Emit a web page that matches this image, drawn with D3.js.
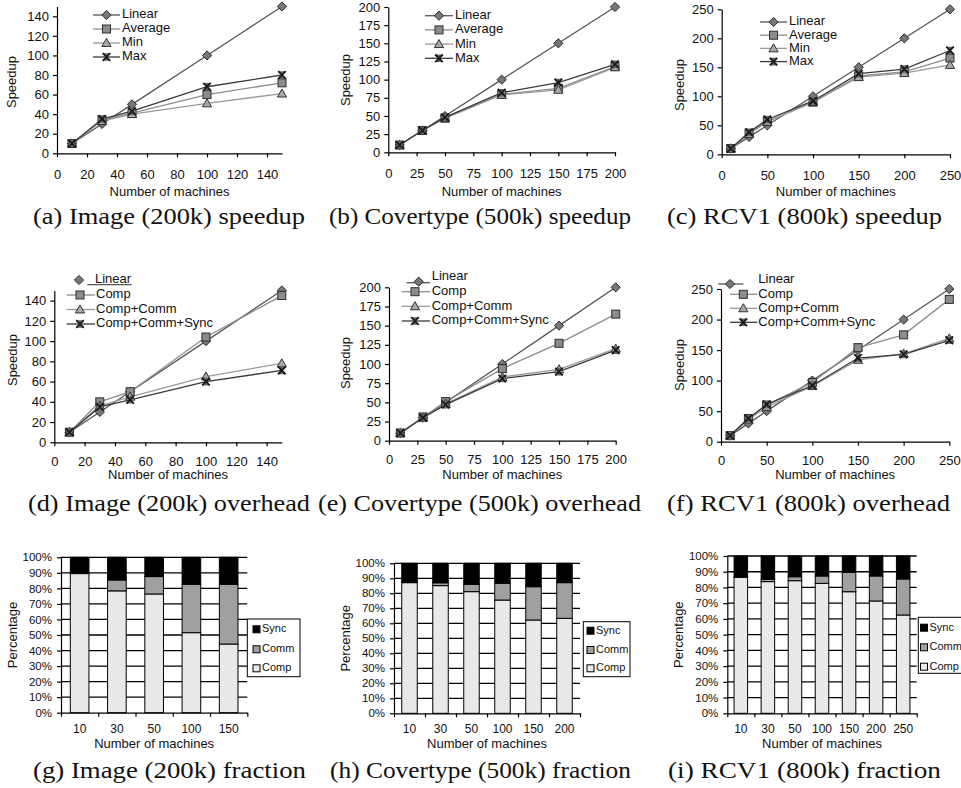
<!DOCTYPE html>
<html><head><meta charset="utf-8">
<script src="https://cdn.jsdelivr.net/npm/d3@7"></script>
<style>body{margin:0;background:#fff}svg{display:block}</style>
</head><body><svg id="c" width="961" height="788"></svg>
<script>
// ---------- data ----------
const xImage = [10, 30, 50, 100, 150];
const xCover = [10, 30, 50, 100, 150, 200];
const xRcv   = [10, 30, 50, 100, 150, 200, 250];

// speedup (row 1)
const imgLinear  = [10, 30, 50, 100, 150];
const imgAverage = [10, 34, 41, 60, 72];
const imgMin     = [10, 33, 40, 51, 61];
const imgMax     = [10, 35, 43, 68, 80];

const covLinear  = [10, 30, 50, 100, 150, 200];
const covAverage = [10, 30, 47, 80, 88, 118];
const covMin     = [10, 30, 47, 79, 86, 117];
const covMax     = [10, 30, 48, 82, 96, 121];

const rcvLinear  = [10, 30, 50, 100, 150, 200, 250];
const rcvAverage = [10, 36, 57, 90, 135, 142, 166];
const rcvMin     = [10, 35, 56, 90, 133, 140, 154];
const rcvMax     = [10, 38, 60, 92, 139, 147, 179];

// overhead (row 2)
const imgComp         = [10, 40, 50, 104, 145];
const imgCompComm     = [10, 36, 45, 65, 78];
const imgCompCommSync = [10, 35, 42, 60, 71];

const covComp         = [10, 31, 51, 94, 127, 165];
const covCompComm     = [10, 30, 48, 83, 93, 120];
const covCompCommSync = [10, 30, 47, 81, 90, 118];

const rcvComp         = [10, 38, 60, 97, 154, 175, 233];
const rcvCompComm     = [10, 36, 57, 91, 134, 144, 169];
const rcvCompCommSync = [10, 38, 61, 92, 137, 143, 166];

// fraction (row 3), percent
const imgFracComp = [89.5, 78.4, 76.4, 51.5, 44.2];
const imgFracComm = [0.8, 7.0, 11.2, 31.2, 38.5];
const imgFracSync = [9.7, 14.6, 12.4, 17.3, 17.3];

const covFracComp = [87.1, 85.1, 81.1, 75.5, 62.2, 63.3];
const covFracComm = [0.4, 1.9, 4.9, 11.2, 22.2, 23.8];
const covFracSync = [12.5, 13.0, 14.0, 13.3, 15.6, 12.9];

const rcvFracComp = [86.4, 83.7, 84.3, 82.6, 77.3, 71.4, 62.5];
const rcvFracComm = [0.6, 1.5, 2.5, 4.7, 12.3, 15.9, 22.9];
const rcvFracSync = [13.0, 14.8, 13.2, 12.7, 10.4, 12.7, 14.6];

const speedupNames  = ["Linear", "Average", "Min", "Max"];
const overheadNames = ["Linear", "Comp", "Comp+Comm", "Comp+Comm+Sync"];
const fracNames     = ["Sync", "Comm", "Comp"];

const captions = [
  "(a) Image (200k) speedup", "(b) Covertype (500k) speedup", "(c) RCV1 (800k) speedup",
  "(d) Image (200k) overhead", "(e) Covertype (500k) overhead", "(f) RCV1 (800k) overhead",
  "(g) Image (200k) fraction", "(h) Covertype (500k) fraction", "(i) RCV1 (800k) fraction"
];

// ---------- drawing ----------
const svg = d3.select("#c");
const SANS = "'Liberation Sans', Arial, sans-serif";
const SERIF = "'Liberation Serif', 'Times New Roman', serif";

const styles = [
  {shape: "diamond",  line: "#555",    fill: "#777",    stroke: "#2a2a2a"},
  {shape: "square",   line: "#8e8e8e", fill: "#8c8c8c", stroke: "#2e2e2e"},
  {shape: "triangle", line: "#9a9a9a", fill: "#a8a8a8", stroke: "#333"},
  {shape: "x",        line: "#3a3a3a", fill: "#666",    stroke: "#1a1a1a"}
];

function drawMarker(g, shape, cx, cy, st) {
  if (shape === "diamond") {
    const r = 4.6;
    g.append("path").attr("d", `M${cx},${cy-r}L${cx+r},${cy}L${cx},${cy+r}L${cx-r},${cy}Z`)
      .attr("fill", st.fill).attr("stroke", st.stroke).attr("stroke-width", 1);
  } else if (shape === "square") {
    const r = 4;
    g.append("rect").attr("x", cx-r).attr("y", cy-r).attr("width", 2*r).attr("height", 2*r)
      .attr("fill", st.fill).attr("stroke", st.stroke).attr("stroke-width", 1);
  } else if (shape === "triangle") {
    const r = 4.6;
    g.append("path").attr("d", `M${cx},${cy-r}L${cx+r},${cy+r*0.75}L${cx-r},${cy+r*0.75}Z`)
      .attr("fill", st.fill).attr("stroke", st.stroke).attr("stroke-width", 1);
  } else {
    const r = 3.8;
    g.append("path").attr("d", `M${cx-r},${cy-r}L${cx+r},${cy-r}L${cx-r},${cy+r}L${cx+r},${cy+r}Z`)
      .attr("fill", st.fill).attr("stroke", "none");
    g.append("path").attr("d", `M${cx-r},${cy-r}L${cx+r},${cy+r}M${cx+r},${cy-r}L${cx-r},${cy+r}`)
      .attr("stroke", st.stroke).attr("stroke-width", 1.8).attr("fill", "none");
  }
}

function styleAxis(a, fs) {
  a.select(".domain").attr("stroke", "#000").attr("stroke-width", 1.2);
  a.selectAll(".tick line").attr("stroke", "#000").attr("stroke-width", 1.2);
  a.selectAll("text").attr("font-family", SANS).attr("font-size", fs).attr("fill", "#111");
}

function lineChart(o) {
  const x = d3.scaleLinear().domain([0, o.xMax]).range([o.x0, o.x1]);
  const y = d3.scaleLinear().domain([0, o.yMax]).range([o.y0, o.y1]);
  const g = svg.append("g");

  const ax = g.append("g").attr("transform", `translate(0,${o.y0})`)
    .call(d3.axisBottom(x).tickValues(o.xTicks).tickSize(4).tickSizeOuter(0).tickPadding(o.xPad || 12));
  styleAxis(ax, 13);
  const ay = g.append("g").attr("transform", `translate(${o.x0},0)`)
    .call(d3.axisLeft(y).tickValues(o.yTicks).tickSize(4).tickSizeOuter(0).tickPadding(4));
  styleAxis(ay, 13);

  g.append("text").attr("x", (o.x0 + o.x1) / 2).attr("y", o.xLabelY)
    .attr("text-anchor", "middle").attr("dominant-baseline", "middle")
    .attr("font-family", SANS).attr("font-size", 13).attr("fill", "#111").text("Number of machines");
  g.append("text").attr("transform", `translate(${o.yLabelX},${o.yLabelY}) rotate(-90)`)
    .attr("text-anchor", "middle").attr("dominant-baseline", "middle")
    .attr("font-family", SANS).attr("font-size", 13).attr("fill", "#111").text("Speedup");

  const line = d3.line().x(d => x(d[0])).y(d => y(d[1]));
  o.series.forEach((s, i) => {
    const pts = o.xs.map((v, j) => [v, s[j]]);
    g.append("path").attr("d", line(pts)).attr("fill", "none")
      .attr("stroke", styles[i].line).attr("stroke-width", 1.3);
  });
  o.series.forEach((s, i) => {
    o.xs.forEach((v, j) => drawMarker(g, styles[i].shape, x(v), y(s[j]), styles[i]));
  });

  // legend
  o.legend.forEach((L, i) => {
    g.append("line").attr("x1", L.l0).attr("x2", L.l1).attr("y1", L.ly).attr("y2", L.ly)
      .attr("stroke", styles[i].line).attr("stroke-width", 1.3);
    drawMarker(g, styles[i].shape, L.mx, L.my, styles[i]);
    g.append("text").attr("x", L.tx).attr("y", L.ty).attr("dominant-baseline", "middle")
      .attr("font-family", SANS).attr("font-size", 13).attr("fill", "#111").text(o.names[i]);
  });
}

function simpleLegend(l0, l1, tx, y0, dy) {
  return [0, 1, 2, 3].map(i => ({l0, l1, ly: y0 + i*dy, mx: (l0 + l1)/2, my: y0 + i*dy, tx, ty: y0 + i*dy}));
}

function barChart(o) {
  const n = o.cats.length;
  const xb = d3.scaleBand().domain(o.cats.map(String)).range([o.x0, o.x1]).paddingInner(0.5).paddingOuter(0.25);
  const xl = d3.scaleLinear().domain([0, n]).range([o.x0, o.x1]);
  const y = d3.scaleLinear().domain([0, 100]).range([o.y0, o.y1]);
  const g = svg.append("g");

  // gridlines
  d3.range(10, 101, 10).forEach(v => {
    g.append("line").attr("x1", o.x0).attr("x2", o.x1).attr("y1", y(v)).attr("y2", y(v))
      .attr("stroke", "#000").attr("stroke-width", 1.3);
  });

  const colors = {comp: "#e9e9e9", comm: "#a0a0a0", sync: "#000"};
  o.cats.forEach((c, j) => {
    const bx = xb(String(c)), bw = xb.bandwidth();
    const a = o.comp[j], b = o.comp[j] + o.comm[j], t = b + o.sync[j];
    [[0, a, colors.comp], [a, b, colors.comm], [b, t, colors.sync]].forEach(([lo, hi, col]) => {
      g.append("rect").attr("x", bx).attr("width", bw).attr("y", y(hi)).attr("height", y(lo) - y(hi))
        .attr("fill", col).attr("stroke", "#000").attr("stroke-width", 1);
    });
  });

  const ay = g.append("g").attr("transform", `translate(${o.x0},0)`)
    .call(d3.axisLeft(y).tickValues(d3.range(0, 101, 10)).tickFormat(d => d + "%").tickSize(4).tickSizeOuter(0).tickPadding(5));
  styleAxis(ay, 11.5);
  const ax = g.append("g").attr("transform", `translate(0,${o.y0})`)
    .call(d3.axisBottom(xl).tickValues(d3.range(0, n + 1)).tickFormat("").tickSize(4).tickSizeOuter(0));
  styleAxis(ax, 12);
  const axl = g.append("g").attr("transform", `translate(0,${o.y0})`)
    .call(d3.axisBottom(xb).tickSize(0).tickPadding(o.tPad));
  axl.select(".domain").remove();
  axl.selectAll("text").attr("font-family", SANS).attr("font-size", 12).attr("fill", "#111");

  g.append("text").attr("x", (o.x0 + o.x1) / 2).attr("y", o.xLabelY)
    .attr("text-anchor", "middle").attr("dominant-baseline", "middle")
    .attr("font-family", SANS).attr("font-size", 13).attr("fill", "#111").text("Number of machines");
  g.append("text").attr("transform", `translate(${o.yLabelX},${(o.y0 + o.y1) / 2}) rotate(-90)`)
    .attr("text-anchor", "middle").attr("dominant-baseline", "middle")
    .attr("font-family", SANS).attr("font-size", 13).attr("fill", "#111").text("Percentage");

  // legend box
  const lg = o.leg;
  g.append("rect").attr("x", lg.x).attr("y", lg.y).attr("width", lg.w).attr("height", lg.h)
    .attr("fill", "#fff").attr("stroke", "#000").attr("stroke-width", 1);
  const sw = [colors.sync, colors.comm, colors.comp];
  fracNames.forEach((nm, i) => {
    const yy = lg.items[i];
    g.append("rect").attr("x", lg.sx).attr("y", yy - 3.5).attr("width", 7).attr("height", 7)
      .attr("fill", sw[i]).attr("stroke", "#000").attr("stroke-width", 1);
    g.append("text").attr("x", lg.sx + 9).attr("y", yy).attr("dominant-baseline", "middle")
      .attr("font-family", SANS).attr("font-size", 11).attr("fill", "#111").text(nm);
  });
}

// ---------- row 1 ----------
lineChart({xs: xImage, series: [imgLinear, imgAverage, imgMin, imgMax], names: speedupNames,
  x0: 57, x1: 282, xMax: 150, xTicks: d3.range(0, 141, 20),
  y0: 153.3, y1: 6.5, yMax: 150, yTicks: d3.range(0, 141, 20),
  xLabelY: 193, yLabelX: 13, yLabelY: 82,
  legend: simpleLegend(93, 120, 122, 15, 14)});
lineChart({xs: xCover, series: [covLinear, covAverage, covMin, covMax], names: speedupNames,
  x0: 388.3, x1: 615, xMax: 200, xTicks: d3.range(0, 201, 25),
  y0: 152.3, y1: 7, yMax: 200, yTicks: d3.range(0, 201, 25),
  xLabelY: 193, yLabelX: 346.7, yLabelY: 80,
  legend: simpleLegend(425, 453, 455, 15.7, 14.2)});
lineChart({xs: xRcv, series: [rcvLinear, rcvAverage, rcvMin, rcvMax], names: speedupNames,
  x0: 721.7, x1: 950, xMax: 250, xTicks: d3.range(0, 251, 50),
  y0: 154.3, y1: 9.3, yMax: 250, yTicks: d3.range(0, 251, 50),
  xLabelY: 193, yLabelX: 680.7, yLabelY: 85,
  legend: simpleLegend(760, 787, 789, 22, 13.2)});

// ---------- row 2 ----------
lineChart({xs: xImage, series: [imgLinear, imgComp, imgCompComm, imgCompCommSync], names: overheadNames,
  x0: 54.3, x1: 281.8, xMax: 150, xTicks: d3.range(0, 141, 20), xPad: 10,
  y0: 442.3, y1: 290.5, yMax: 150, yTicks: d3.range(0, 141, 20),
  xLabelY: 476, yLabelX: 13.3, yLabelY: 360,
  legend: [
    {l0: 87.3, l1: 131.7, ly: 284.7, mx: 79, my: 280, tx: 95, ty: 279.5},
    {l0: 66.7, l1: 95, ly: 295, mx: 80, my: 295, tx: 96, ty: 295},
    {l0: 66.7, l1: 95, ly: 309.5, mx: 80, my: 309.5, tx: 96, ty: 309.5},
    {l0: 66.7, l1: 95, ly: 324, mx: 80, my: 324, tx: 96, ty: 324}
  ]});
lineChart({xs: xCover, series: [covLinear, covComp, covCompComm, covCompCommSync], names: overheadNames,
  x0: 389, x1: 615.7, xMax: 200, xTicks: d3.range(0, 201, 25), xPad: 10,
  y0: 440.7, y1: 287.3, yMax: 200, yTicks: d3.range(0, 201, 25),
  xLabelY: 476, yLabelX: 346.7, yLabelY: 363,
  legend: [
    {l0: 406.7, l1: 430, ly: 282.7, mx: 418.7, my: 281.7, tx: 431.7, ty: 277},
    {l0: 401.7, l1: 430, ly: 291.7, mx: 415, my: 291.7, tx: 431.7, ty: 291.7},
    {l0: 401.7, l1: 430, ly: 306.3, mx: 415, my: 306.3, tx: 431.7, ty: 306.3},
    {l0: 401.7, l1: 430, ly: 321, mx: 415, my: 321, tx: 431.7, ty: 321}
  ]});
lineChart({xs: xRcv, series: [rcvLinear, rcvComp, rcvCompComm, rcvCompCommSync], names: overheadNames,
  x0: 721, x1: 949.3, xMax: 250, xTicks: d3.range(0, 251, 50), xPad: 10,
  y0: 441.7, y1: 289, yMax: 250, yTicks: d3.range(0, 251, 50),
  xLabelY: 476, yLabelX: 680.7, yLabelY: 365,
  legend: [
    {l0: 718.3, l1: 743.3, ly: 284, mx: 730, my: 284, tx: 758.3, ty: 280},
    {l0: 730, l1: 757.3, ly: 294.3, mx: 743.3, my: 294.3, tx: 758.3, ty: 294.8},
    {l0: 730, l1: 757.3, ly: 308.3, mx: 743.3, my: 308.3, tx: 758.3, ty: 308.8},
    {l0: 730, l1: 757.3, ly: 322.3, mx: 743.3, my: 322.3, tx: 758.3, ty: 322.8}
  ]});

// ---------- row 3 ----------
barChart({cats: xImage, comp: imgFracComp, comm: imgFracComm, sync: imgFracSync,
  x0: 61, x1: 247.3, y0: 712.7, y1: 557.3, xLabelY: 745, yLabelX: 13.3, tPad: 12,
  leg: {x: 247.3, y: 619, w: 52.7, h: 57.7, sx: 253, items: [629.3, 649.3, 668.3]}});
barChart({cats: xCover, comp: covFracComp, comm: covFracComm, sync: covFracSync,
  x0: 394, x1: 580, y0: 713.3, y1: 563.3, xLabelY: 745, yLabelX: 346.7, tPad: 11,
  leg: {x: 583.3, y: 621.7, w: 46.7, h: 55, sx: 587, items: [630.7, 650, 668.3]}});
barChart({cats: xRcv, comp: rcvFracComp, comm: rcvFracComm, sync: rcvFracSync,
  x0: 727.3, x1: 916.7, y0: 713.3, y1: 556, xLabelY: 745, yLabelX: 680, tPad: 11,
  leg: {x: 918.3, y: 617.3, w: 50, h: 56, sx: 920.5, items: [627.7, 647.3, 666.7]}});

// ---------- captions ----------
const capPos = [
  [33, 305, 217], [329, 631, 217], [667, 942, 217],
  [28, 310, 504], [318, 641, 504], [667, 950, 504],
  [33, 306, 771], [330, 631, 771], [668, 941, 771]
];
captions.forEach((t, i) => {
  const [a, b, yy] = capPos[i];
  svg.append("text").attr("x", a).attr("y", yy + 7).attr("font-family", SERIF).attr("font-size", 23)
    .attr("fill", "#111").attr("textLength", b - a).attr("lengthAdjust", "spacingAndGlyphs").text(t);
});
</script>
</body></html>
